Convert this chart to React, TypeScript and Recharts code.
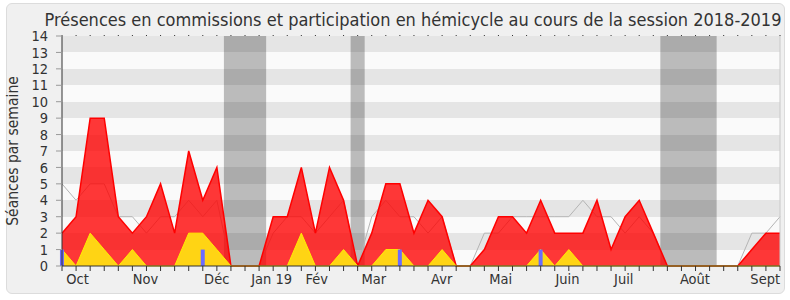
import {
  ComposedChart,
  Area,
  Bar,
  XAxis,
  YAxis,
  CartesianGrid,
  ReferenceArea,
  ReferenceLine,
} from "recharts";

// one point per week, session 2018-2019
const presences = [
  2, 3, 9, 9, 3, 2, 3, 5, 2, 7, 4, 6, 0, 0, 0, 3, 3, 6, 2, 6, 4, 0, 2, 5, 5, 2,
  4, 3, 0, 0, 1, 3, 3, 2, 4, 2, 2, 2, 4, 1, 3, 4, 2, 0, 0, 0, 0, 0, 0, 1, 2, 2,
];
const commissions = [
  1, 0, 2, 1, 0, 1, 0, 0, 0, 2, 2, 1, 0, 0, 0, 0, 0, 2, 0, 0, 1, 0, 0, 1, 1, 0,
  0, 1, 0, 0, 0, 0, 0, 0, 1, 0, 1, 0, 0, 0, 0, 0, 0, 0, 0, 0, 0, 0, 0, 0, 0, 0,
];
const mediane = [
  5, 4, 5, 5, 3, 3, 2, 3, 3, 4, 3, 4, 0, 0, 0, 2, 3, 3, 2, 3, 4, 0, 3, 4, 3, 3,
  2, 3, 0, 0, 2, 2, 3, 3, 3, 3, 3, 4, 3, 3, 2, 3, 2, 0, 0, 0, 0, 0, 0, 2, 2, 3,
];
const questions = [
  1, 0, 0, 0, 0, 0, 0, 0, 0, 0, 1, 0, 0, 0, 0, 0, 0, 0, 0, 0, 0, 0, 0, 0, 1, 0,
  0, 0, 0, 0, 0, 0, 0, 0, 1, 0, 0, 0, 0, 0, 0, 0, 0, 0, 0, 0, 0, 0, 0, 0, 0, 0,
];

const monthTicks = [1.1, 5.93, 10.99, 14.89, 18.09, 22.15, 26.97, 31.16, 35.9, 39.9, 44.96, 49.95];
const monthLabels = ["Oct", "Nov", "Déc", "Jan 19", "Fév", "Mar", "Avr", "Mai", "Juin", "Juil", "Août", "Sept"];

// vacances parlementaires, in weeks
const vacances: [number, number][] = [
  [11.5, 14.5],
  [20.5, 21.5],
  [42.5, 46.5],
];

const yTicks = Array.from({ length: 15 }, (_, i) => i);
const weekTicks = presences.map((_, i) => i);

const data = presences.map((p, i) => ({
  semaine: i,
  presences: p,
  commissions: commissions[i],
  mediane: mediane[i],
  questions: questions[i],
}));

const FONT = "'DejaVu Sans Condensed', 'DejaVu Sans', sans-serif";

export default function App() {
  return (
    <div
      style={{
        position: "absolute",
        left: 0,
        top: 0,
        width: 790,
        height: 300,
        background: "#fff",
        fontFamily: FONT,
      }}
    >
      <div
        style={{
          position: "absolute",
          left: 6,
          top: 3,
          width: 779,
          height: 291,
          boxSizing: "border-box",
          border: "1px solid #dcdcdc",
          borderRadius: 6,
          background: "#f0f0f0",
        }}
      />
      <div style={{ position: "absolute", left: 0, top: 0 }}>
        <ComposedChart
          width={790}
          height={300}
          data={data}
          margin={{ top: 35, right: 10, left: 12, bottom: 4 }}
        >
          <CartesianGrid
            vertical={false}
            stroke="none"
            horizontalFill={["#e5e5e5", "#fafafa"]}
          />
          {vacances.map(([a, b], i) => (
            <ReferenceArea
              key={i}
              x1={a}
              x2={b}
              y1={0}
              y2={14}
              fill="#000"
              fillOpacity={0.25}
              stroke="none"
              zIndex={-50}
            />
          ))}
          <XAxis
            dataKey="semaine"
            type="number"
            domain={[0, 51]}
            ticks={weekTicks}
            interval={0}
            height={6}
            tickSize={5}
            tickFormatter={() => ""}
            stroke="#333"
            tickLine={{ stroke: "#333" }}
          />
          <XAxis
            xAxisId="mois"
            dataKey="semaine"
            type="number"
            domain={[0, 51]}
            ticks={monthTicks}
            interval={0}
            height={24}
            tickLine={false}
            axisLine={false}
            tickSize={0}
            tickMargin={2}
            tickFormatter={(v) => monthLabels[monthTicks.indexOf(v)] ?? ""}
            tick={{ fill: "#333", fontSize: 14.5, fontFamily: FONT }}
          />
          <XAxis
            xAxisId="haut"
            orientation="top"
            dataKey="semaine"
            type="number"
            domain={[0, 51]}
            ticks={weekTicks}
            interval={0}
            height={1}
            tickSize={1}
            axisLine={false}
            tickFormatter={() => ""}
            tickLine={{ stroke: "#333" }}
          />
          <YAxis
            domain={[0, 14]}
            ticks={yTicks}
            interval={0}
            width={50}
            tickSize={6}
            tickMargin={8}
            stroke="#333"
            tickLine={{ stroke: "#999" }}
            tick={{ fill: "#333", fontSize: 14.5, fontFamily: FONT }}
          />
          <ReferenceLine x={51} stroke="#c8c8c8" />
          <Area
            type="linear"
            dataKey="mediane"
            stroke="#b4b4b4"
            strokeWidth={1}
            fill="none"
            dot={false}
            activeDot={false}
            isAnimationActive={false}
          />
          <Area
            type="linear"
            dataKey="presences"
            stroke="#ff0000"
            strokeWidth={1.5}
            fill="#ff0000"
            fillOpacity={0.78}
            dot={false}
            activeDot={false}
            isAnimationActive={false}
          />
          <Area
            type="linear"
            dataKey="commissions"
            stroke="#ffee00"
            strokeWidth={1}
            fill="#ffd414"
            fillOpacity={1}
            dot={false}
            activeDot={false}
            isAnimationActive={false}
          />
          <Bar
            dataKey="questions"
            fill="#6b6bff"
            barSize={4}
            isAnimationActive={false}
          />
        </ComposedChart>
      </div>
      <svg
        width={790}
        height={300}
        style={{ position: "absolute", left: 0, top: 0, pointerEvents: "none" }}
      >
        <text
          x={413}
          y={26}
          textAnchor="middle"
          fontSize={18}
          fill="#333"
          fontFamily={FONT}
        >
          Présences en commissions et participation en hémicycle au cours de la session 2018-2019
        </text>
        <text
          x={18}
          y={151}
          textAnchor="middle"
          fontSize={15.5}
          fill="#333"
          fontFamily={FONT}
          transform="rotate(-90 18 151)"
        >
          Séances par semaine
        </text>
      </svg>
    </div>
  );
}
